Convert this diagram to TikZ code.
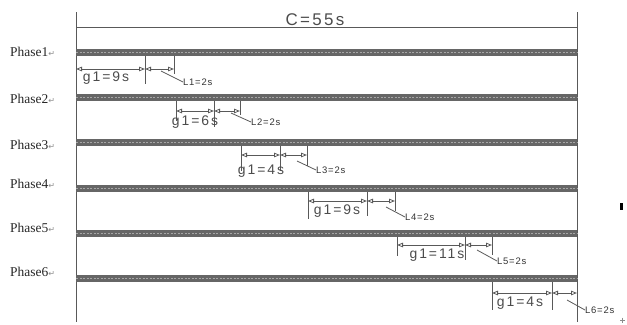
\documentclass[tikz,border=0pt]{standalone}
\usepackage{fontspec}
\setmainfont{Liberation Serif}
\newfontfamily\cadfont[LetterSpace=14]{Liberation Sans}
\newfontfamily\cadsmall[LetterSpace=8]{Liberation Sans}
\newfontfamily\symfont{DejaVu Sans}
\usetikzlibrary{arrows.meta}
\newcommand{\ret}{{\symfont\fontsize{8}{9}\selectfont\color{black!45}↵}}
\tikzset{
  frame/.style={draw=black!65, line width=0.9bp},
  tickline/.style={draw=black!65, line width=0.9bp},
  dimline/.style={draw=black!65, line width=0.8bp,
     {Triangle[open,length=6bp,width=4.5bp]}-{Triangle[open,length=6bp,width=4.5bp]}},
  leader/.style={draw=black!65, line width=0.8bp},
  phlabel/.style={anchor=west, inner sep=0pt, font=\fontsize{13.5}{15}\selectfont, text=black!85},
  gtext/.style={inner sep=0pt, font=\cadfont\fontsize{14}{16}\selectfont, text=black!70},
  ltext/.style={anchor=west, inner sep=0pt, font=\cadsmall\fontsize{9.5}{11}\selectfont, text=black!80},
  ctext/.style={inner sep=0pt, font=\cadfont\fontsize{17}{19}\selectfont, text=black!70},
}
\newcommand{\phasebar}[1]{%
  \fill[black!60] (76,#1-3.5) rectangle (577,#1+3.5);
  \draw[black!35, line width=0.6bp, dash pattern=on 2bp off 1.5bp] (76,#1) -- (577,#1);
}
\begin{document}
\begin{tikzpicture}[x=1bp,y=-1bp]
\useasboundingbox (0,0) rectangle (627,324);
% frame
\coordinate (lt) at (76,12); \coordinate (lb) at (76,322);
\coordinate (rt) at (577,12); \coordinate (rb) at (577,322);
\coordinate (ct1) at (76,27); \coordinate (ct2) at (577,27);
\draw[frame] (lt) -- (lb);
\draw[frame] (rt) -- (rb);
\draw[frame] (ct1) -- (ct2);
\node[ctext, anchor=base] (cyc) at (315,25.5) {C=55s};
% bars
\phasebar{52}
\phasebar{97}
\phasebar{142}
\phasebar{188}
\phasebar{233}
\phasebar{278}
% labels
\node[phlabel] (ph1) at (10,52) {Phase1\ret};
\node[phlabel] (ph2) at (10,99) {Phase2\ret};
\node[phlabel] (ph3) at (10,145) {Phase3\ret};
\node[phlabel] (ph4) at (10,184) {Phase4\ret};
\node[phlabel] (ph5) at (10,228) {Phase5\ret};
\node[phlabel] (ph6) at (10,272) {Phase6\ret};
% Phase 1
\coordinate (a1) at (76,69); \coordinate (b1) at (145,69); \coordinate (c1) at (174,69);
\draw[tickline] (145,55.5) -- (145,84);
\draw[tickline] (174,55.5) -- (174,74);
\draw[dimline] (a1) -- (b1);
\draw[dimline] (b1) -- (c1);
\node[gtext] (g1) at (106,78) {g1=9s};
\coordinate (l1s) at (161,71);
\node[ltext] (l1) at (183,82) {L1=2s};
\draw[leader] (l1s) -- (l1.west);
% Phase 2
\coordinate (a2) at (176,111); \coordinate (b2) at (214,111); \coordinate (c2) at (240,111);
\draw[tickline] (176,100.5) -- (176,121);
\draw[tickline] (214,100.5) -- (214,127);
\draw[tickline] (240,100.5) -- (240,115);
\draw[dimline] (a2) -- (b2);
\draw[dimline] (b2) -- (c2);
\node[gtext] (g2) at (195,122) {g1=6s};
\coordinate (l2s) at (231,113);
\node[ltext] (l2) at (251,122) {L2=2s};
\draw[leader] (l2s) -- (l2.west);
% Phase 3
\coordinate (a3) at (241,155); \coordinate (b3) at (280,155); \coordinate (c3) at (307,155);
\draw[tickline] (241,145.5) -- (241,171);
\draw[tickline] (280,145.5) -- (280,171);
\draw[tickline] (307,145.5) -- (307,166);
\draw[dimline] (a3) -- (b3);
\draw[dimline] (b3) -- (c3);
\node[gtext] (g3) at (261,171) {g1=4s};
\coordinate (l3s) at (297,161);
\node[ltext] (l3) at (316,170) {L3=2s};
\draw[leader] (l3s) -- (l3.west);
% Phase 4
\coordinate (a4) at (308,201); \coordinate (b4) at (367,201); \coordinate (c4) at (395,201);
\draw[tickline] (308,191.5) -- (308,219);
\draw[tickline] (367,191.5) -- (367,216);
\draw[tickline] (395,191.5) -- (395,211);
\draw[dimline] (a4) -- (b4);
\draw[dimline] (b4) -- (c4);
\node[gtext] (g4) at (337,211) {g1=9s};
\coordinate (l4s) at (386,207);
\node[ltext] (l4) at (405,217) {L4=2s};
\draw[leader] (l4s) -- (l4.west);
% Phase 5
\coordinate (a5) at (397,245); \coordinate (b5) at (465,245); \coordinate (c5) at (492,245);
\draw[tickline] (397,236.5) -- (397,256);
\draw[tickline] (465,236.5) -- (465,260);
\draw[tickline] (492,236.5) -- (492,255);
\draw[dimline] (a5) -- (b5);
\draw[dimline] (b5) -- (c5);
\node[gtext] (g5) at (437,255) {g1=11s};
\coordinate (l5s) at (477,250);
\node[ltext] (l5) at (497,261) {L5=2s};
\draw[leader] (l5s) -- (l5.west);
% Phase 6
\coordinate (a6) at (492,293); \coordinate (b6) at (552,293); \coordinate (c6) at (577,293);
\draw[tickline] (492,281.5) -- (492,310);
\draw[tickline] (552,281.5) -- (552,310);
\draw[dimline] (a6) -- (b6);
\draw[dimline] (b6) -- (c6);
\node[gtext] (g6) at (520,303) {g1=4s};
\coordinate (l6s) at (567,300);
\node[ltext] (l6) at (585,310) {L6=2s};
\draw[leader] (l6s) -- (l6.west);
% stray marks
\fill[black] (620,203) rectangle (622.5,210);
\draw[black!45, line width=0.5bp] (620,320) -- (625,320) (622.5,317.5) -- (622.5,322.5);
\end{tikzpicture}
\end{document}
